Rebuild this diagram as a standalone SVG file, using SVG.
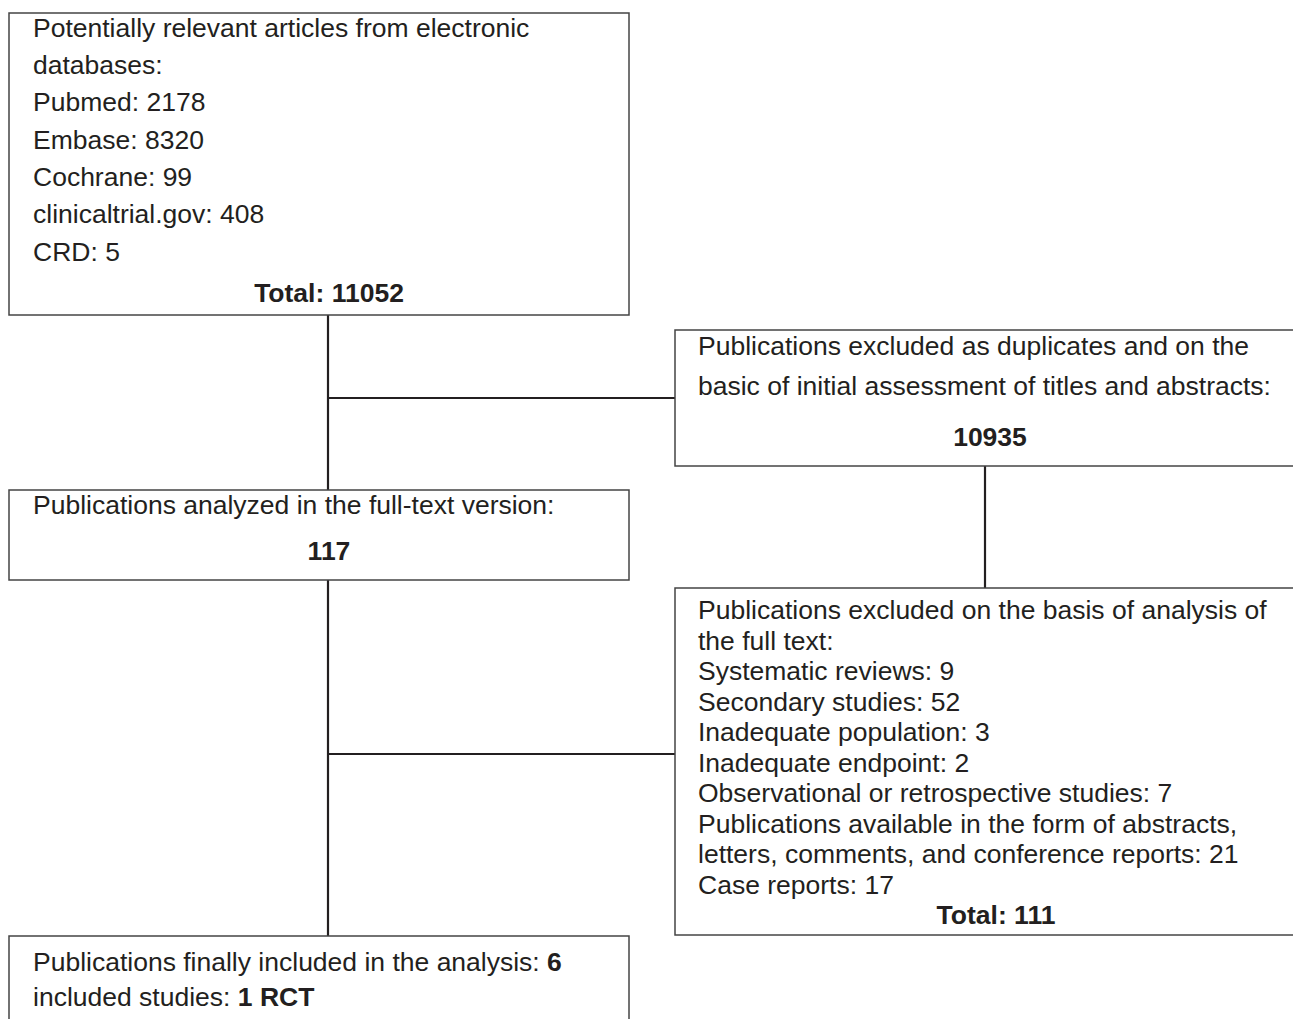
<svg xmlns="http://www.w3.org/2000/svg" width="1293" height="1019" viewBox="0 0 1293 1019">
<style>
.box{fill:#fff;stroke:#444;stroke-width:1.5}
.c{stroke:#231f20;stroke-width:2.2;fill:none}
text{font-family:"Liberation Sans",Arial,sans-serif;font-size:26.5px;fill:#231f20}
.b{font-weight:bold}
.m{text-anchor:middle}
</style>
<rect width="1293" height="1019" fill="#fff"/>
<g id="connectors">
<line class="c" x1="328" y1="315" x2="328" y2="490"/>
<line class="c" x1="328" y1="398" x2="675" y2="398"/>
<line class="c" x1="985" y1="466" x2="985" y2="588"/>
<line class="c" x1="328" y1="580" x2="328" y2="936"/>
<line class="c" x1="328" y1="754" x2="675" y2="754"/>
</g>
<g id="node-sources">
<rect class="box" x="9" y="13" width="620" height="302"/>
<text x="33" y="37">Potentially relevant articles from electronic</text>
<text x="33" y="74">databases:</text>
<text x="33" y="111">Pubmed: 2178</text>
<text x="33" y="149">Embase: 8320</text>
<text x="33" y="186">Cochrane: 99</text>
<text x="33" y="223">clinicaltrial.gov: 408</text>
<text x="33" y="261">CRD: 5</text>
<text class="b m" x="329" y="302">Total: 11052</text>
</g>
<g id="node-excluded1">
<rect class="box" x="675" y="330" width="620" height="136"/>
<text x="698" y="355">Publications excluded as duplicates and on the</text>
<text x="698" y="395">basic of initial assessment of titles and abstracts:</text>
<text class="b m" x="990" y="446">10935</text>
</g>
<g id="node-fulltext">
<rect class="box" x="9" y="490" width="620" height="90"/>
<text x="33" y="514">Publications analyzed in the full-text version:</text>
<text class="b m" x="329" y="560">117</text>
</g>
<g id="node-excluded2">
<rect class="box" x="675" y="588" width="620" height="347"/>
<text x="698" y="619">Publications excluded on the basis of analysis of</text>
<text x="698" y="649.5">the full text:</text>
<text x="698" y="680">Systematic reviews: 9</text>
<text x="698" y="710.5">Secondary studies: 52</text>
<text x="698" y="741">Inadequate population: 3</text>
<text x="698" y="771.5">Inadequate endpoint: 2</text>
<text x="698" y="802">Observational or retrospective studies: 7</text>
<text x="698" y="832.5">Publications available in the form of abstracts,</text>
<text x="698" y="863">letters, comments, and conference reports: 21</text>
<text x="698" y="893.5">Case reports: 17</text>
<text class="b m" x="996" y="924">Total: 111</text>
</g>
<g id="node-included">
<rect class="box" x="9" y="936" width="620" height="100"/>
<text x="33" y="971">Publications finally included in the analysis: <tspan class="b">6</tspan></text>
<text x="33" y="1006">included studies: <tspan class="b">1 RCT</tspan></text>
</g>
</svg>
